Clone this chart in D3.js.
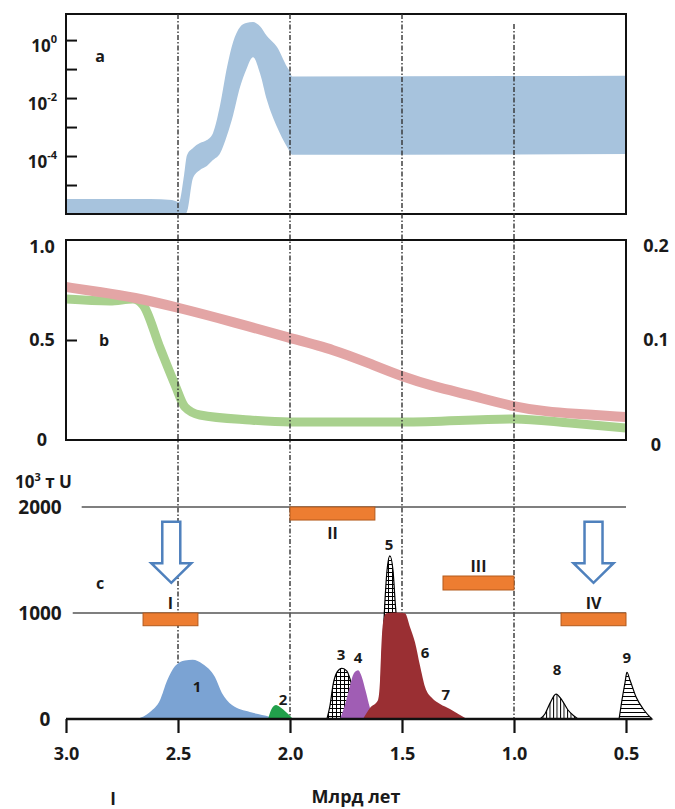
<!DOCTYPE html>
<html>
<head>
<meta charset="utf-8">
<script src="https://cdn.jsdelivr.net/npm/d3@7"></script>
<style>
  body { margin: 0; background: #fff; }
  text { font-family: "Open Sans", "DejaVu Sans", sans-serif; font-weight: bold; fill: #1a1a1a; }
</style>
</head>
<body>
<svg id="chart" width="675" height="809"></svg>
<script>
// ---- data (ages in Ga) ----
var ageTicks = [3.0, 2.5, 2.0, 1.5, 1.0, 0.5];
var markerAges = [2.5, 2.0, 1.5, 1.0];

// panel a : band, log10 of lower / upper bound
var bandAges = [3.0, 2.625, 2.527, 2.496, 2.473, 2.46, 2.433, 2.402, 2.371, 2.344, 2.312, 2.281,
                2.254, 2.223, 2.196, 2.165, 2.134, 2.103, 2.058, 2.013, 2.0, 1.991, 0.982, 0.5];
var bandHi = [-5.48, -5.48, -5.52, -5.59, -4.66, -3.97, -3.72, -3.55, -3.45, -3.21, -2.24, -0.93,
              -0.07, 0.45, 0.59, 0.62, 0.48, 0.14, -0.24, -0.93, -1.10, -1.26, -1.24, -1.23];
var bandLo = [-6, -6, -6, -6, -6, -5.93, -4.76, -4.48, -4.34, -4.14, -3.90, -3.28,
              -2.59, -1.62, -1.03, -0.59, -1.14, -2.07, -3.0, -3.69, -3.86, -3.96, -3.95, -3.93];
var aTickExps = [0, -1, -2, -3, -4, -5];
var aLabelExps = [0, -2, -4];

// panel b : pink on left axis, green on right axis
var pinkAges = [3.0, 2.85, 2.701, 2.491, 2.254, 2.0, 1.799, 1.65, 1.496, 1.35, 1.196, 1.0, 0.85, 0.75, 0.5];
var pinkVals = [0.765, 0.74, 0.715, 0.66, 0.59, 0.51, 0.45, 0.385, 0.315, 0.265, 0.225, 0.165, 0.142, 0.133, 0.115];
var greenAges = [3.0, 2.804, 2.701, 2.656, 2.58, 2.513, 2.469, 2.402, 2.179, 2.0, 1.777, 1.496, 1.0, 0.75, 0.5];
var greenVals = [0.141, 0.139, 0.141, 0.135, 0.092, 0.055, 0.033, 0.025, 0.020, 0.018, 0.018, 0.018, 0.021, 0.017, 0.012];
var bLeftTicks = [1.0, 0.5, 0];
var bRightTicks = [0.2, 0.1, 0];

// panel c : deposits, 10^3 t U
var peak1 = [[2.683, 0], [2.625, 66], [2.58, 179], [2.549, 360], [2.513, 500], [2.469, 552], [2.435, 558],
             [2.39, 520], [2.335, 396], [2.304, 245], [2.259, 132], [2.179, 66], [2.089, 19], [2.067, 0]];
var peak2 = [[2.098, 0], [2.08, 104], [2.0625, 132], [2.045, 113], [2.018, 66], [1.987, 0]];
var peak3 = [[1.835, 0], [1.821, 132], [1.808, 320], [1.79, 442], [1.768, 479], [1.746, 451],
             [1.728, 348], [1.71, 179], [1.696, 0]];
var peak4 = [[1.777, 0], [1.759, 104], [1.737, 273], [1.714, 433], [1.696, 460], [1.679, 395],
             [1.661, 254], [1.643, 104], [1.625, 0]];
var peak5 = [[1.598, 0], [1.585, 742], [1.576, 1117], [1.567, 1399], [1.554, 1540], [1.54, 1399],
             [1.531, 1117], [1.518, 742], [1.504, 0]];
var peak6 = [[1.674, 0], [1.643, 104], [1.607, 179], [1.598, 367], [1.594, 584], [1.585, 903],
             [1.571, 997], [1.531, 1005], [1.487, 997], [1.464, 866], [1.442, 723], [1.42, 507],
             [1.397, 301], [1.366, 197], [1.33, 141], [1.286, 94], [1.241, 38], [1.21, 0]];
var peak8 = [[0.884, 0], [0.862, 47], [0.839, 150], [0.8125, 235], [0.786, 179], [0.759, 85], [0.732, 28], [0.714, 0]];
var peak9 = [[0.531, 0], [0.518, 179], [0.504, 348], [0.496, 441], [0.482, 366], [0.455, 207], [0.42, 85], [0.384, 0]];
var peakNames = ["1", "2", "3", "4", "5", "6", "7", "8", "9"];
var peakLabelAges = [2.415, 2.031, 1.772, 1.696, 1.558, 1.397, 1.304, 0.808, 0.496];
var peakLabelVals = [302, 179, 604, 575, 1642, 623, 226, 462, 575];

var barNames = ["I", "II", "III", "IV"];
var barFrom = [2.656, 2.0, 1.317, 0.79];
var barTo = [2.411, 1.621, 1.0, 0.5];
var barTop = [1000, 2000, 1349, 1000];
var barBottom = [880, 1877, 1217, 880];

var refLevels = [2000, 1000];
var refStart = [2.93, 2.97];

var arrowAges = [2.53, 0.645];
var arrowTop = 1860, arrowNeck = 1470, arrowTip = 1285;

// ---- scales ----
var svg = d3.select("#chart");
var x = d3.scaleLinear().domain([3.0, 0.5]).range([66, 626]);
var yA = d3.scaleLog().domain([1e-6, Math.pow(10, 0.9)]).range([214, 14]);
var yB = d3.scaleLinear().domain([0, 1]).range([440, 240]);
var yB2 = d3.scaleLinear().domain([0, 0.2]).range([440, 240]);
var yC = d3.scaleLinear().domain([0, 2000]).range([719, 507]);

var defs = svg.append("defs");
defs.append("clipPath").attr("id", "clipA").append("rect")
    .attr("x", 66).attr("y", 14).attr("width", 560).attr("height", 200);
defs.append("clipPath").attr("id", "clipB").append("rect")
    .attr("x", 66).attr("y", 240).attr("width", 560).attr("height", 200);

function hatch(id, lines, size) {
  var p = defs.append("pattern").attr("id", id).attr("patternUnits", "userSpaceOnUse")
      .attr("width", size).attr("height", size);
  p.append("rect").attr("width", size).attr("height", size).attr("fill", "#fff");
  if (lines.indexOf("v") >= 0)
    p.append("line").attr("x1", 0.5).attr("x2", 0.5).attr("y1", 0).attr("y2", size)
      .attr("stroke", "#000").attr("stroke-width", 1);
  if (lines.indexOf("h") >= 0)
    p.append("line").attr("x1", 0).attr("x2", size).attr("y1", 0.5).attr("y2", 0.5)
      .attr("stroke", "#000").attr("stroke-width", 1);
}
hatch("cross", "vh", 4);
hatch("vert", "v", 3.5);
hatch("horiz", "h", 4);

// ---- panel a ----
var bandData = bandAges.map(function (a, i) {
  return {age: a, lo: Math.pow(10, bandLo[i]), hi: Math.pow(10, bandHi[i])};
});
svg.append("path").datum(bandData)
  .attr("clip-path", "url(#clipA)")
  .attr("fill", "#a7c3dd")
  .attr("d", d3.area().x(d => x(d.age)).y0(d => yA(d.lo)).y1(d => yA(d.hi)).curve(d3.curveMonotoneX));

svg.append("g").attr("transform", "translate(66,0)")
  .call(d3.axisLeft(yA).tickValues(aTickExps.map(e => Math.pow(10, e))).tickSize(-11).tickFormat(""))
  .call(g => g.select(".domain").remove())
  .selectAll("line").attr("stroke", "#111").attr("stroke-width", 2);

aLabelExps.forEach(function (e) {
  var t = svg.append("text").attr("x", 57).attr("y", yA(Math.pow(10, e)) + 12)
    .attr("text-anchor", "end").style("font-size", "17px");
  t.append("tspan").text("10");
  t.append("tspan").attr("dy", -9).style("font-size", "11px").text(e);
});
svg.append("rect").attr("x", 66).attr("y", 14).attr("width", 560).attr("height", 200)
  .attr("fill", "none").attr("stroke", "#111").attr("stroke-width", 2);
svg.append("text").attr("x", 100).attr("y", 62).attr("text-anchor", "middle")
  .style("font-size", "16px").text("a");

// ---- panel b ----
var gB = svg.append("g").attr("clip-path", "url(#clipB)");
gB.append("path").datum(greenAges.map((a, i) => [a, greenVals[i]]))
  .attr("fill", "none").attr("stroke", "#a9d18e").attr("stroke-width", 9)
  .attr("d", d3.line().x(d => x(d[0])).y(d => yB2(d[1])).curve(d3.curveMonotoneX));
gB.append("path").datum(pinkAges.map((a, i) => [a, pinkVals[i]]))
  .attr("fill", "none").attr("stroke", "#e3a5a5").attr("stroke-width", 10)
  .attr("d", d3.line().x(d => x(d[0])).y(d => yB(d[1])).curve(d3.curveBasis));

svg.append("g").attr("transform", "translate(66,0)")
  .call(d3.axisLeft(yB).tickValues([0.5]).tickSize(-11).tickFormat(""))
  .call(g => g.select(".domain").remove())
  .selectAll("line").attr("stroke", "#111").attr("stroke-width", 2);
svg.append("rect").attr("x", 66).attr("y", 240).attr("width", 560).attr("height", 200)
  .attr("fill", "none").attr("stroke", "#111").attr("stroke-width", 2);

bLeftTicks.forEach(function (v) {
  svg.append("text").attr("x", 42).attr("y", Math.max(yB(v), 247) + 6)
    .attr("text-anchor", "middle").style("font-size", "18px").text(v === 0 ? "0" : d3.format(".1f")(v));
});
bRightTicks.forEach(function (v) {
  svg.append("text").attr("x", 656).attr("y", Math.max(yB2(v), 246) + 6 + (v === 0 ? 5 : 0))
    .attr("text-anchor", "middle").style("font-size", "18px").text(v === 0 ? "0" : d3.format(".1f")(v));
});
svg.append("text").attr("x", 104).attr("y", 346).attr("text-anchor", "middle")
  .style("font-size", "16px").text("b");

// ---- vertical marker lines ----
svg.append("g").selectAll("line").data(markerAges).join("line")
  .attr("x1", d => x(d)).attr("x2", d => x(d))
  .attr("y1", (d, i) => i === 3 ? 24 : 14).attr("y2", yC(0))
  .attr("stroke", "#333").attr("stroke-width", 1.4)
  .attr("stroke-dasharray", "5,2,1.5,2");

// ---- panel c ----
svg.append("g").selectAll("line").data(refLevels).join("line")
  .attr("x1", (d, i) => x(refStart[i])).attr("x2", x(0.5))
  .attr("y1", d => yC(d)).attr("y2", d => yC(d))
  .attr("stroke", "#555").attr("stroke-width", 1.5);

svg.append("g").selectAll("rect").data(barNames).join("rect")
  .attr("x", (d, i) => x(barFrom[i])).attr("width", (d, i) => x(barTo[i]) - x(barFrom[i]))
  .attr("y", (d, i) => yC(barTop[i])).attr("height", (d, i) => yC(barBottom[i]) - yC(barTop[i]))
  .attr("fill", "#ed7d31").attr("stroke", "#b35a1d").attr("stroke-width", 1);
svg.append("g").selectAll("text").data(barNames).join("text")
  .attr("x", (d, i) => (x(barFrom[i]) + x(barTo[i])) / 2)
  .attr("y", (d, i) => d === "II" ? yC(barBottom[i]) + 19 : yC(barTop[i]) - 4)
  .attr("text-anchor", "middle").style("font-size", "16px").text(d => d);

var arrowPath = function (a) {
  var cx = x(a), t = yC(arrowTop), n = yC(arrowNeck), p = yC(arrowTip);
  return "M" + (cx - 9) + "," + t + "L" + (cx + 9) + "," + t + "L" + (cx + 9) + "," + n +
    "L" + (cx + 20) + "," + n + "L" + cx + "," + p + "L" + (cx - 20) + "," + n +
    "L" + (cx - 9) + "," + n + "Z";
};
svg.append("g").selectAll("path").data(arrowAges).join("path")
  .attr("d", arrowPath).attr("fill", "#fff").attr("stroke", "#4f81bd").attr("stroke-width", 2.5);

var area = d3.area().x(d => x(d[0])).y0(yC(0)).y1(d => yC(d[1])).curve(d3.curveMonotoneX);
var peaks = [
  {pts: peak1, fill: "#7ba3d3", stroke: "none"},
  {pts: peak2, fill: "#22a04b", stroke: "none"},
  {pts: peak3, fill: "url(#cross)", stroke: "#000"},
  {pts: peak4, fill: "#a05db4", stroke: "none"},
  {pts: peak5, fill: "url(#cross)", stroke: "#000"},
  {pts: peak6, fill: "#9a2f33", stroke: "none"},
  {pts: peak8, fill: "url(#vert)", stroke: "#000"},
  {pts: peak9, fill: "url(#horiz)", stroke: "#000"}
];
svg.append("g").selectAll("path").data(peaks).join("path")
  .attr("d", d => area(d.pts)).attr("fill", d => d.fill)
  .attr("stroke", d => d.stroke).attr("stroke-width", 1.2);

svg.append("g").selectAll("text").data(peakNames).join("text")
  .attr("x", (d, i) => x(peakLabelAges[i])).attr("y", (d, i) => yC(peakLabelVals[i]) + 5)
  .attr("text-anchor", "middle").style("font-size", "15px").text(d => d);

// bottom axis
var xAxis = svg.append("g").attr("transform", "translate(0," + yC(0) + ")")
  .call(d3.axisBottom(x).tickValues(ageTicks).tickSize(14).tickPadding(14).tickFormat(d3.format(".1f")));
xAxis.select(".domain").remove();
xAxis.selectAll("line").attr("stroke", "#111").attr("stroke-width", 2.2);
xAxis.selectAll("text").style("font-size", "18px").style("font-family", null).attr("fill", "#1a1a1a");
svg.append("line").attr("x1", x(3.0)).attr("x2", x(0.385)).attr("y1", yC(0)).attr("y2", yC(0))
  .attr("stroke", "#111").attr("stroke-width", 2.5);

// left labels of panel c
var unit = svg.append("text").attr("x", 15).attr("y", 488).style("font-size", "17px");
unit.append("tspan").text("10");
unit.append("tspan").attr("dy", -7).style("font-size", "11px").text("3");
unit.append("tspan").attr("dy", 7).text(" т U");
refLevels.concat([0]).forEach(function (v) {
  svg.append("text").attr("x", v === 0 ? 45 : 40).attr("y", yC(v) + 7)
    .attr("text-anchor", "middle").style("font-size", "19px").text(v);
});
svg.append("text").attr("x", 100).attr("y", 589).attr("text-anchor", "middle")
  .style("font-size", "16px").text("c");

svg.append("text").attr("x", 356).attr("y", 803).attr("text-anchor", "middle")
  .style("font-size", "18px").text("Млрд лет");
svg.append("text").attr("x", 113).attr("y", 805).attr("text-anchor", "middle")
  .style("font-size", "17px").text("I");
</script>
</body>
</html>
